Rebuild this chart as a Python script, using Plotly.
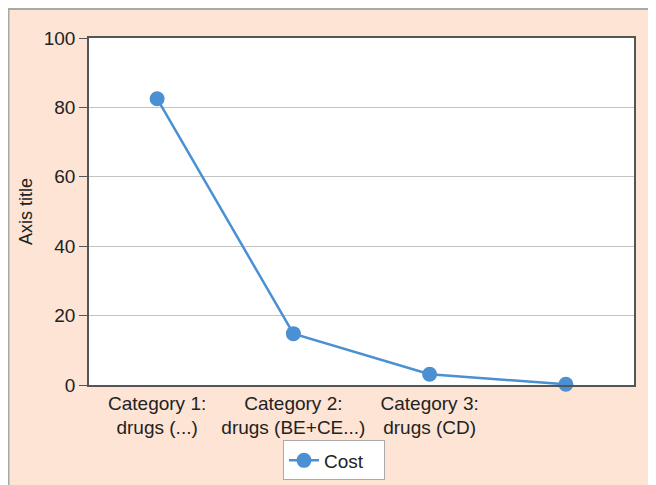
import plotly.graph_objects as go

categories = ["Category 1:<br>drugs (...)", "Category 2:<br>drugs (BE+CE...)", "Category 3:<br>drugs (CD)", ""]
cost = [82.5, 14.8, 3.1, 0.2]
y_ticks = [0, 20, 40, 60, 80, 100]

W, H = 656, 485
L, R, T, B = 81, 30, 30, 101
pw, ph = W - L - R, H - T - B

def px(x):
    return (x - L) / pw

def py(y):
    return (H - B - y) / ph

xs = list(range(len(categories)))
TXT = "#222222"

fig = go.Figure()
fig.add_trace(go.Scatter(
    x=xs, y=cost, mode="lines+markers", name="Cost",
    line=dict(color="#4A90D2", width=2.5),
    marker=dict(color="#4A90D2", size=15),
    cliponaxis=False,
))

fig.update_layout(
    width=W, height=H,
    margin=dict(l=L, r=R, t=T, b=B),
    paper_bgcolor="#FDE4D4",
    plot_bgcolor="white",
    font=dict(family="Liberation Sans, Arial, sans-serif", size=19, color=TXT),
    showlegend=True,
    legend=dict(
        orientation="h", xanchor="center", x=px(326), yanchor="middle", y=py(461),
        bgcolor="white", bordercolor="#aaaaaa", borderwidth=1,
        font=dict(size=19, color=TXT), entrywidth=55,
    ),
    xaxis=dict(
        range=[-0.5, len(categories) - 0.5],
        tickvals=xs, ticktext=categories,
        showgrid=False, zeroline=False,
        showline=True, mirror=True, linecolor="#555555", linewidth=1.5,
        ticks="", tickfont=dict(size=19, color=TXT),
    ),
    yaxis=dict(
        range=[0, 100], tickvals=y_ticks,
        showgrid=True, gridcolor="#c4c4c4", gridwidth=1.2,
        zeroline=False,
        showline=True, mirror=True, linecolor="#555555", linewidth=1.5,
        ticks="outside", ticklen=8, tickcolor="#555555", tickwidth=1.2,
        tickfont=dict(size=19, color=TXT),
        title=dict(text="Axis title", font=dict(size=18, color=TXT), standoff=6),
    ),
    shapes=[
        dict(type="line", xref="paper", yref="paper", layer="above",
             x0=px(0), x1=px(W + 10), y0=py(0.5), y1=py(0.5),
             line=dict(color="#a8a8a8", width=2)),
        dict(type="line", xref="paper", yref="paper", layer="above",
             x0=px(0.5), x1=px(0.5), y0=py(0), y1=py(H + 10),
             line=dict(color="#a8a8a8", width=2)),
    ],
)

fig.write_html("out.html", config={"displayModeBar": False})
